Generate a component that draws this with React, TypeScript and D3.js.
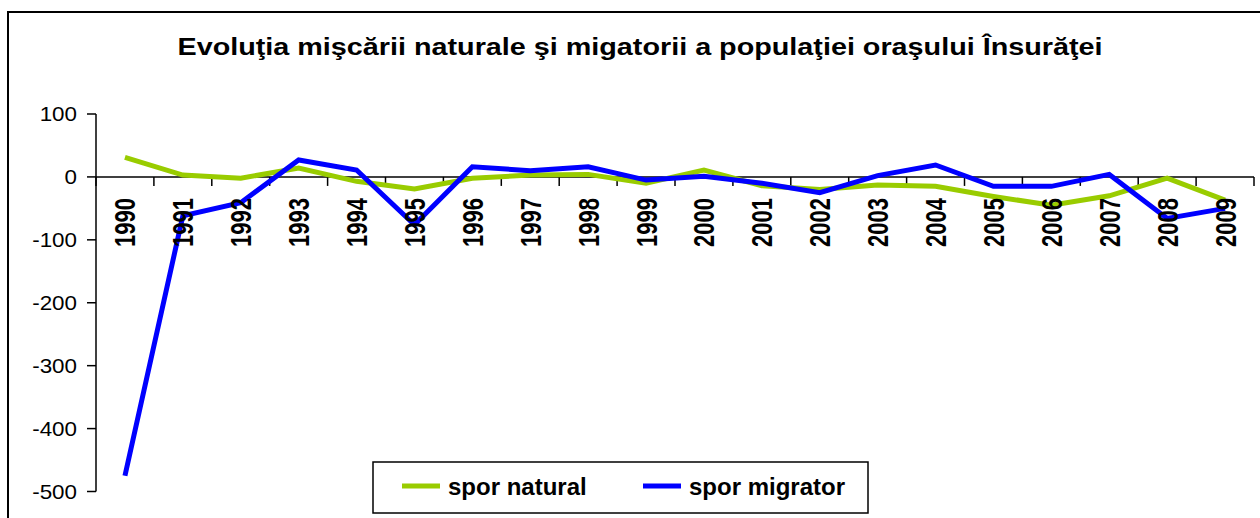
import React, { useEffect, useRef } from "react";
import * as d3 from "d3";

const years = ["1990","1991","1992","1993","1994","1995","1996","1997","1998","1999",
  "2000","2001","2002","2003","2004","2005","2006","2007","2008","2009"];
const sporNatural = [31, 3, -2, 14, -7, -19, -2, 3, 4, -10, 11, -14, -20, -13, -15, -31, -45, -30, -2, -37];
const sporMigrator = [-475, -62, -41, 27, 11, -76, 16, 10, 16, -5, 1, -10, -25, 2, 19, -15, -15, 4, -66, -50];
const yTicks = [100, 0, -100, -200, -300, -400, -500];
const title = "Evoluţia mişcării naturale şi migatorii a populaţiei oraşului Însurăţei";

const FONT = "'Liberation Sans', Arial, sans-serif";

const App = () => {
  const svgRef = useRef<SVGSVGElement>(null);

  useEffect(() => {
    const width = 1260;
    const height = 518;
    const svg = d3.select(svgRef.current)
      .attr("width", width)
      .attr("height", height);
    svg.selectAll("*").remove();

    // outer chart frame (runs off right / bottom edge)
    svg.append("rect")
      .attr("x", 8).attr("y", 12)
      .attr("width", 1300).attr("height", 560)
      .attr("fill", "white")
      .attr("stroke", "black")
      .attr("stroke-width", 2);

    svg.append("text")
      .attr("x", 640).attr("y", 55)
      .attr("text-anchor", "middle")
      .attr("font-family", FONT)
      .attr("font-weight", "bold")
      .attr("font-size", 23.5)
      .attr("textLength", 925)
      .attr("lengthAdjust", "spacingAndGlyphs")
      .text(title);

    const x = d3.scaleBand().domain(years).range([96, 1254]);
    const y = d3.scaleLinear().domain([-500, 100]).range([491.5, 114]);

    // y axis
    const g = svg.append("g");
    g.append("line")
      .attr("x1", 96).attr("x2", 96)
      .attr("y1", y(100)).attr("y2", y(-500))
      .attr("stroke", "black").attr("stroke-width", 1.5);
    yTicks.forEach(t => {
      g.append("line")
        .attr("x1", 87).attr("x2", 96)
        .attr("y1", y(t)).attr("y2", y(t))
        .attr("stroke", "black").attr("stroke-width", 1.5);
      g.append("text")
        .attr("transform", `translate(77,${y(t) + 7}) scale(1.12,1)`)
        .attr("text-anchor", "end")
        .attr("font-family", FONT)
        .attr("font-size", 20)
        .text(t);
    });

    // x axis at zero
    g.append("line")
      .attr("x1", 96).attr("x2", 1254)
      .attr("y1", y(0)).attr("y2", y(0))
      .attr("stroke", "black").attr("stroke-width", 1.5);
    const bounds = years.map(d => x(d)!).concat([1254]);
    bounds.forEach(b => {
      g.append("line")
        .attr("x1", b).attr("x2", b)
        .attr("y1", y(0)).attr("y2", y(0) + 9)
        .attr("stroke", "black").attr("stroke-width", 1.5);
    });

    const cx = (d: string) => x(d)! + x.bandwidth() / 2;

    const line = d3.line<number>()
      .x((d, i) => cx(years[i]))
      .y(d => y(d));

    svg.append("path")
      .attr("d", line(sporNatural))
      .attr("fill", "none")
      .attr("stroke", "#99cc00")
      .attr("stroke-width", 5);

    svg.append("path")
      .attr("d", line(sporMigrator))
      .attr("fill", "none")
      .attr("stroke", "#0000ff")
      .attr("stroke-width", 5);

    // year labels, rotated
    years.forEach(yr => {
      svg.append("text")
        .attr("transform", `translate(${cx(yr) + 10.5},198) rotate(-90) scale(1,1.3)`)
        .attr("text-anchor", "end")
        .attr("font-family", FONT)
        .attr("font-weight", "bold")
        .attr("font-size", 22)
        .text(yr);
    });

    // legend
    const lg = svg.append("g");
    lg.append("rect")
      .attr("x", 373).attr("y", 462)
      .attr("width", 495).attr("height", 51)
      .attr("fill", "white")
      .attr("stroke", "black")
      .attr("stroke-width", 1.5);
    const items = [
      { name: "spor natural", color: "#99cc00", x0: 402 },
      { name: "spor migrator", color: "#0000ff", x0: 643 },
    ];
    items.forEach(it => {
      lg.append("line")
        .attr("x1", it.x0).attr("x2", it.x0 + 38)
        .attr("y1", 486).attr("y2", 486)
        .attr("stroke", it.color)
        .attr("stroke-width", 5);
      lg.append("text")
        .attr("x", it.x0 + 46).attr("y", 495)
        .attr("font-family", FONT)
        .attr("font-weight", "bold")
        .attr("font-size", 24)
        .text(it.name);
    });
  }, []);

  return (
    <svg ref={svgRef} style={{ position: "fixed", left: 0, top: 0, background: "white" }}></svg>
  );
};

export default App;
